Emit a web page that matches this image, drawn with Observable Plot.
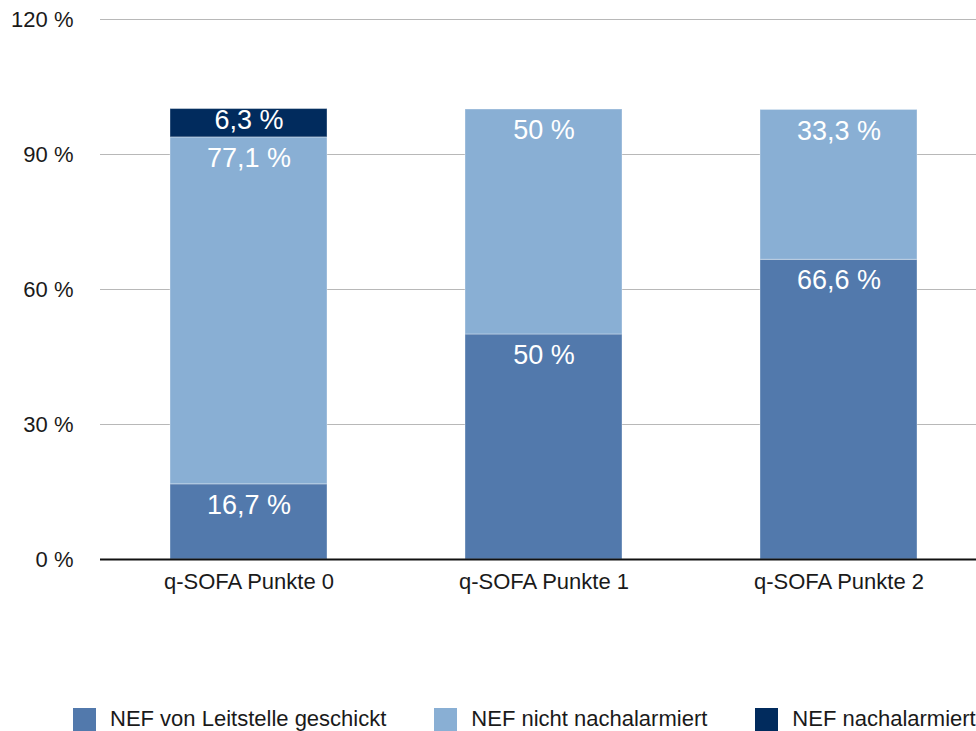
<!DOCTYPE html>
<html>
<head>
<meta charset="utf-8">
<script src="https://cdn.jsdelivr.net/npm/d3@7"></script>
<script src="https://cdn.jsdelivr.net/npm/@observablehq/plot@0.6"></script>
<style>
  html, body { margin: 0; padding: 0; background: #fff; overflow: hidden; width: 976px; height: 731px; }
  body { font-family: "Liberation Sans", Arial, sans-serif; color: #1a1a1a; }
  #chart svg { display: block; }
  .legend { display: flex; align-items: center; margin-left: 73px; margin-top: 16px; white-space: nowrap; font-size: 22px; }
  .legend .item { display: flex; align-items: center; margin-right: 48px; }
  .legend .sw { width: 23px; height: 23px; margin-right: 14px; flex: none; }
</style>
</head>
<body>
<div id="chart"></div>
<div class="legend" id="legend"></div>
<script>
const categories = ["q-SOFA Punkte 0", "q-SOFA Punkte 1", "q-SOFA Punkte 2"];
const seriesNames = ["NEF von Leitstelle geschickt", "NEF nicht nachalarmiert", "NEF nachalarmiert"];
const seriesColors = ["#5279ac", "#89afd4", "#012b5d"];
const geschickt = [16.7, 50, 66.6];
const nichtNachalarmiert = [77.1, 50, 33.3];
const nachalarmiert = [6.3, 0, 0];
const yTicks = [0, 30, 60, 90, 120];

const seriesValues = [geschickt, nichtNachalarmiert, nachalarmiert];
const segments = [];
categories.forEach((c, i) => {
  let acc = 0;
  seriesNames.forEach((s, j) => {
    const v = seriesValues[j][i];
    if (!v) return;
    segments.push({category: c, series: s, value: v, y1: acc, y2: acc + v,
      label: String(v).replace(".", ",") + " %"});
    acc += v;
  });
});

const plot = Plot.plot({
  width: 976,
  height: 690,
  marginLeft: 100,
  marginRight: 0,
  marginTop: 19,
  marginBottom: 131,
  style: {fontFamily: "'Liberation Sans', Arial, sans-serif", color: "#1a1a1a", background: "#fff"},
  x: {domain: categories, range: [100, 987], paddingInner: 0.468, paddingOuter: 0.234, label: null},
  y: {domain: [0, 120], label: null},
  color: {domain: seriesNames, range: seriesColors},
  marks: [
    Plot.ruleY(yTicks.filter(d => d > 0), {stroke: "#b8b8b8", strokeWidth: 1}),
    Plot.barY(segments, {x: "category", y1: "y1", y2: "y2", fill: "series", stroke: "#ffffff", strokeOpacity: 0.35, strokeWidth: 1}),
    Plot.text(segments.filter(d => d.value >= 10), {x: "category", y: "y2", text: "label", fill: "white", fontSize: 27, dy: 21}),
    Plot.text(segments.filter(d => d.value < 10), {x: "category", y: "y2", text: "label", fill: "white", fontSize: 27, dy: 11}),
    Plot.ruleY([0], {stroke: "#111", strokeWidth: 2}),
    Plot.axisY({ticks: yTicks, tickFormat: d => d + " %", tickSize: 0, tickPadding: 27, fontSize: 22, anchor: "left", label: null}),
    Plot.axisX({tickSize: 0, tickPadding: 14, fontSize: 22, label: null})
  ]
});
document.getElementById("chart").appendChild(plot);

const legend = document.getElementById("legend");
seriesNames.forEach((s, i) => {
  const item = document.createElement("div");
  item.className = "item";
  const sw = document.createElement("span");
  sw.className = "sw";
  sw.style.background = seriesColors[i];
  const t = document.createElement("span");
  t.textContent = s;
  item.appendChild(sw);
  item.appendChild(t);
  legend.appendChild(item);
});
</script>
</body>
</html>
